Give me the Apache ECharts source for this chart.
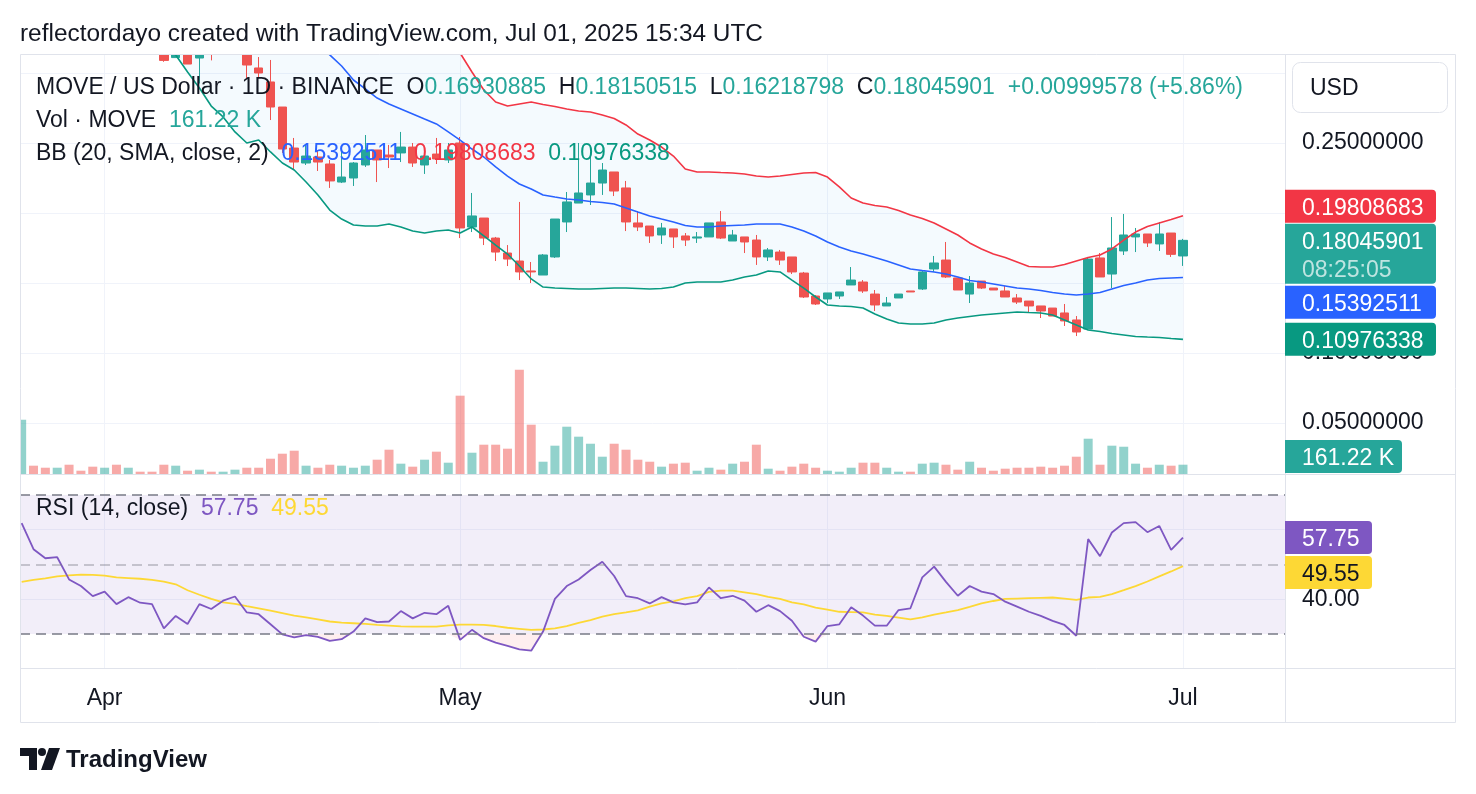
<!DOCTYPE html>
<html>
<head>
<meta charset="utf-8">
<title>MOVE / US Dollar · 1D · BINANCE</title>
<script src="https://cdn.jsdelivr.net/npm/echarts@6/dist/echarts.min.js"></script>
<style>
  html, body { margin: 0; padding: 0; background: #fff; }
  #chart { width: 1476px; height: 794px; }
</style>
</head>
<body>
<div id="chart"></div>
<script>
  // daily candles, 25 Mar 2025 .. 1 Jul 2025
  const dates = [];
  for (let i = 0; i < 99; i++) {
    dates.push(new Date(Date.UTC(2025, 2, 25 + i)).toISOString().slice(0, 10));
  }

  const open = [
    0.430, 0.455, 0.425, 0.415, 0.417, 0.392, 0.384, 0.370, 0.376, 0.358, 0.366, 0.358,
    0.355, 0.311, 0.335, 0.3107, 0.330, 0.317, 0.330, 0.338, 0.3036, 0.2936, 0.2757, 0.2464,
    0.2357, 0.2400, 0.2350, 0.2221, 0.2250, 0.2343, 0.2450, 0.2414, 0.2429, 0.2471, 0.2343, 0.2421,
    0.2379, 0.2500, 0.1900, 0.1964, 0.1821, 0.1714, 0.1657, 0.1586, 0.1557, 0.1686, 0.1936, 0.2071,
    0.2129, 0.2214, 0.2293, 0.2179, 0.1929, 0.1907, 0.1843, 0.1886, 0.1836, 0.1821, 0.1829, 0.1936,
    0.1800, 0.1829, 0.1807, 0.1686, 0.1721, 0.1686, 0.1571, 0.1407, 0.1386, 0.1407, 0.1486, 0.1507,
    0.1421, 0.1336, 0.1393, 0.1443, 0.1457, 0.1600, 0.1664, 0.1536, 0.1421, 0.1514, 0.1464, 0.1443,
    0.1393, 0.1371, 0.1336, 0.1321, 0.1286, 0.1236, 0.1171, 0.1679, 0.1564, 0.1729, 0.1829, 0.1850,
    0.1779, 0.1857, 0.16930885
  ];
  const high = [
    0.468, 0.458, 0.432, 0.425, 0.420, 0.398, 0.388, 0.382, 0.379, 0.370, 0.368, 0.362,
    0.357, 0.345, 0.340, 0.338, 0.340, 0.345, 0.350, 0.342, 0.3114, 0.3093, 0.2757, 0.2536,
    0.2486, 0.2450, 0.2379, 0.2471, 0.2364, 0.2557, 0.2450, 0.2486, 0.2579, 0.2500, 0.2450, 0.2536,
    0.2500, 0.2543, 0.2143, 0.1964, 0.1829, 0.1771, 0.2079, 0.1650, 0.1707, 0.1957, 0.2150, 0.2500,
    0.2429, 0.2357, 0.2293, 0.2229, 0.2014, 0.1907, 0.1929, 0.1886, 0.1857, 0.1864, 0.1929, 0.2014,
    0.1879, 0.1829, 0.1843, 0.1750, 0.1736, 0.1686, 0.1579, 0.1414, 0.1429, 0.1436, 0.1614, 0.1521,
    0.1450, 0.1400, 0.1421, 0.1443, 0.1593, 0.1693, 0.1793, 0.1536, 0.1550, 0.1514, 0.1464, 0.1479,
    0.1421, 0.1371, 0.1336, 0.1321, 0.1350, 0.1264, 0.1686, 0.1714, 0.1971, 0.1993, 0.1893, 0.1850,
    0.1936, 0.1857, 0.18150515
  ];
  const low = [
    0.425, 0.418, 0.405, 0.408, 0.385, 0.378, 0.362, 0.365, 0.352, 0.354, 0.354, 0.350,
    0.308, 0.311, 0.3064, 0.2925, 0.309, 0.315, 0.318, 0.2964, 0.2971, 0.2664, 0.2429, 0.2307,
    0.2343, 0.2300, 0.2179, 0.2214, 0.2193, 0.2329, 0.2221, 0.2321, 0.2364, 0.2329, 0.2279, 0.2350,
    0.2357, 0.1821, 0.1864, 0.1771, 0.1657, 0.1621, 0.1521, 0.1500, 0.1557, 0.1679, 0.1864, 0.2071,
    0.2057, 0.2129, 0.2121, 0.1871, 0.1871, 0.1786, 0.1779, 0.1750, 0.1764, 0.1786, 0.1829, 0.1814,
    0.1800, 0.1714, 0.1629, 0.1657, 0.1629, 0.1564, 0.1393, 0.1343, 0.1357, 0.1386, 0.1486, 0.1429,
    0.1300, 0.1336, 0.1393, 0.1436, 0.1450, 0.1579, 0.1536, 0.1450, 0.1357, 0.1457, 0.1450, 0.1400,
    0.1350, 0.1286, 0.1250, 0.1264, 0.1193, 0.1121, 0.1171, 0.1543, 0.1464, 0.1700, 0.1721, 0.1757,
    0.1729, 0.1686, 0.16218798
  ];
  const close = [
    0.455, 0.425, 0.415, 0.417, 0.392, 0.384, 0.370, 0.376, 0.358, 0.366, 0.358, 0.355,
    0.309, 0.335, 0.3064, 0.330, 0.317, 0.330, 0.338, 0.3057, 0.3000, 0.2757, 0.2457, 0.2364,
    0.2407, 0.2364, 0.2229, 0.2257, 0.2357, 0.2450, 0.2379, 0.2400, 0.2471, 0.2357, 0.2407, 0.2386,
    0.2450, 0.1893, 0.1979, 0.1821, 0.1721, 0.1671, 0.1579, 0.1579, 0.1700, 0.1957, 0.2079, 0.2143,
    0.2214, 0.2307, 0.2157, 0.1936, 0.1900, 0.1836, 0.1893, 0.1829, 0.1807, 0.1829, 0.1929, 0.1821,
    0.1843, 0.1793, 0.1686, 0.1736, 0.1664, 0.1579, 0.1400, 0.1350, 0.1429, 0.1436, 0.1521, 0.1443,
    0.1343, 0.1357, 0.1421, 0.1436, 0.1579, 0.1643, 0.1543, 0.1450, 0.1500, 0.1464, 0.1450, 0.1400,
    0.1364, 0.1336, 0.1300, 0.1264, 0.1229, 0.1150, 0.1671, 0.1543, 0.1750, 0.1843, 0.1850, 0.1786,
    0.1850, 0.17046323, 0.18045901
  ];
  // volume, thousands of MOVE
  const volume = [
    941, 144, 109, 109, 161, 57, 127, 109, 161, 109, 40, 40,
    161, 144, 57, 75, 40, 40, 75, 109,
    109, 265, 352, 404, 144, 109, 161, 144, 109, 144,
    248, 421, 179, 127, 248, 387, 196, 1358, 369, 508,
    508, 439, 1809, 855, 213, 491, 820, 647, 525, 300,
    525, 421, 248, 213, 127, 179, 196, 57, 109, 75,
    179, 213, 508, 92, 57, 127, 179, 109, 57, 40,
    109, 196, 196, 109, 40, 40, 179, 196, 161, 75,
    213, 109, 57, 92, 109, 109, 127, 109, 144, 300,
    612, 161, 491, 473, 179, 109, 161, 144, 161.22
  ];
  // Bollinger Bands (20, SMA, close, 2) as plotted
  const bbUpper = [
    0.538, 0.530, 0.523, 0.516, 0.510, 0.504, 0.498, 0.494, 0.490, 0.488, 0.486, 0.486,
    0.484, 0.4831, 0.4833, 0.4827, 0.4836, 0.4794, 0.4781, 0.474, 0.4599, 0.4544, 0.4483, 0.4393,
    0.4339, 0.4291, 0.4239, 0.4143, 0.3986, 0.3865, 0.3735, 0.3637, 0.3586, 0.3543, 0.3485, 0.3401,
    0.3279, 0.3143, 0.3007, 0.2879, 0.2793, 0.2764, 0.2779, 0.2793, 0.2775, 0.2761, 0.2743, 0.2729,
    0.2721, 0.2700, 0.2675, 0.2629, 0.2564, 0.2521, 0.2471, 0.2407, 0.2314, 0.2293, 0.2293, 0.2289,
    0.2286, 0.2279, 0.2264, 0.2257, 0.2264, 0.2275, 0.2286, 0.2289, 0.2257, 0.2186, 0.2107, 0.2071,
    0.2054, 0.2043, 0.2018, 0.1986, 0.1961, 0.1929, 0.1886, 0.1843, 0.1786, 0.1743, 0.1707, 0.1682,
    0.1650, 0.1618, 0.1614, 0.1614, 0.1632, 0.1657, 0.1682, 0.1700, 0.1743, 0.1807, 0.1864, 0.1904,
    0.1929, 0.1954, 0.19808683
  ];
  const bbBasis = [
    0.465, 0.460, 0.455, 0.450, 0.445, 0.440, 0.435, 0.430, 0.425, 0.420, 0.415, 0.410,
    0.404, 0.398, 0.392, 0.386, 0.380, 0.374, 0.368, 0.362, 0.356, 0.349, 0.342, 0.335,
    0.328, 0.321, 0.313, 0.305, 0.295, 0.2886, 0.2821, 0.2779, 0.2743, 0.2707, 0.2671, 0.2636,
    0.2579, 0.2521, 0.2457, 0.2400, 0.2329, 0.2264, 0.2207, 0.2171, 0.2129, 0.2114, 0.2100, 0.2093,
    0.2082, 0.2075, 0.2064, 0.2036, 0.2007, 0.1979, 0.1957, 0.1936, 0.1911, 0.1900, 0.1900, 0.1907,
    0.1911, 0.1914, 0.1921, 0.1921, 0.1921, 0.1900, 0.1871, 0.1836, 0.1793, 0.1757, 0.1729, 0.1707,
    0.1682, 0.1657, 0.1629, 0.1600, 0.1589, 0.1579, 0.1564, 0.1543, 0.1518, 0.1507, 0.1493, 0.1479,
    0.1464, 0.1457, 0.1446, 0.1432, 0.1421, 0.1414, 0.1421, 0.1432, 0.1457, 0.1482, 0.1500, 0.1521,
    0.1532, 0.1536, 0.15392511
  ];
  const bbLower = [
    0.392, 0.390, 0.387, 0.384, 0.380, 0.376, 0.372, 0.366, 0.360, 0.352, 0.344, 0.334,
    0.324, 0.3129, 0.3007, 0.2893, 0.2764, 0.2686, 0.2579, 0.2500, 0.2521, 0.2436, 0.2357, 0.2307,
    0.2221, 0.2129, 0.2021, 0.1957, 0.1914, 0.1907, 0.1907, 0.1921, 0.1900, 0.1871, 0.1857, 0.1871,
    0.1879, 0.1857, 0.1900, 0.1836, 0.1771, 0.1707, 0.1621, 0.1529, 0.1471, 0.1464, 0.1461, 0.1457,
    0.1457, 0.1461, 0.1464, 0.1464, 0.1461, 0.1457, 0.1461, 0.1471, 0.1500, 0.1507, 0.1507, 0.1507,
    0.1521, 0.1543, 0.1557, 0.1586, 0.1579, 0.1521, 0.1464, 0.1400, 0.1343, 0.1336, 0.1332, 0.1321,
    0.1279, 0.1243, 0.1214, 0.1207, 0.1207, 0.1214, 0.1236, 0.1250, 0.1261, 0.1271, 0.1279, 0.1286,
    0.1293, 0.1289, 0.1286, 0.1271, 0.1236, 0.1200, 0.1164, 0.1154, 0.1139, 0.1129, 0.1118, 0.1114,
    0.1111, 0.1104, 0.10976338
  ];
  // RSI (14, close) and its moving average
  const rsi = [
    61.9, 54.4, 51.8, 52.1, 45.7, 43.8, 40.9, 42.2, 38.6, 40.6, 39.0, 38.6,
    31.6, 35.2, 32.9, 38.6, 37.2, 39.6, 40.8, 36.2, 35.7, 32.8, 29.9, 29.0,
    29.7, 29.2, 28.0, 28.5, 30.7, 34.5, 33.4, 33.6, 36.6, 34.5, 36.1, 35.7,
    38.1, 28.3, 31.2, 28.8, 27.5, 26.6, 25.6, 25.2, 30.7, 40.1, 43.8, 45.7,
    48.4, 50.8, 46.7, 40.9, 40.3, 38.8, 40.6, 39.1, 38.5, 39.1, 43.4, 40.3,
    41.0, 39.6, 36.4, 38.3, 36.6, 33.8, 29.2, 27.8, 32.3, 32.8, 37.7, 35.3,
    32.4, 32.4, 36.9, 37.4, 46.3, 49.4, 45.0, 41.0, 43.8, 42.2, 41.5, 39.3,
    37.9, 36.4, 35.2, 33.8, 32.6, 29.5, 57.3, 52.4, 59.2, 61.9, 62.2, 59.3,
    61.1, 54.2, 57.75
  ];
  const rsiMa = [
    45.0, 45.6, 46.0, 46.6, 46.9, 47.1, 47.0, 46.8, 46.3, 46.1, 45.9, 45.6,
    45.1, 44.3, 42.6, 41.3, 40.1, 39.1, 38.7, 38.0, 37.4, 36.7, 36.0, 35.3,
    34.8, 34.2, 33.6, 33.3, 33.1, 32.9, 32.6, 32.4, 32.2, 32.1, 32.1, 32.1,
    32.5, 32.7, 32.7, 32.6, 32.3, 31.8, 31.5, 31.2, 31.3, 31.6, 32.3, 33.2,
    34.0, 35.0, 35.7, 36.2, 36.8, 37.9, 38.8, 39.4, 40.3, 40.9, 42.1, 42.5,
    42.5, 42.0, 41.5, 40.7, 40.1, 39.1, 38.5, 37.6, 37.0, 36.4, 36.3, 36.2,
    35.6, 35.2, 34.7, 34.2, 34.8, 35.6, 36.2, 36.9, 37.8, 38.8, 39.5, 40.1,
    40.2, 40.3, 40.4, 40.5, 40.2, 39.8, 40.5, 40.7, 41.5, 42.6, 43.8, 45.1,
    46.6, 48.0, 49.55
  ];
  const priceGrid = [0.05, 0.10, 0.15, 0.20, 0.25, 0.30];
  const priceLabels = [0.05, 0.10, 0.25];
  const rsiGrid = [40, 60];
  const rsiLabels = [40];
  const monthNames = { '04': 'Apr', '05': 'May', '06': 'Jun', '07': 'Jul' };

  /* ---------- style ---------- */
  const FONT = '"Liberation Sans", Arial, sans-serif';
  const TXT = '#131722';
  const UP = '#26a69a', DOWN = '#ef5350';
  const UP_VOL = 'rgba(38,166,154,0.5)', DOWN_VOL = 'rgba(239,83,80,0.5)';
  const C_UPPER = '#f23645', C_BASIS = '#2962ff', C_LOWER = '#089981';
  const C_RSI = '#7e57c2', C_RSIMA = '#fdd835';
  const GRID_C = '#f0f3fa', BORDER_C = '#e0e3eb';
  const font = (s, w) => `${w || 'normal'} ${s}px ${FONT}`;

  const last = dates.length - 1;
  const monthIdx = dates.map((d, i) => (d.endsWith('-01') ? i : -1)).filter(i => i >= 0);
  const xs = dates.map((_, i) => i);
  const X_MIN = -0.14, X_MAX = 106.61;

  const chart = echarts.init(document.getElementById('chart'));

  const xAxisOf = (gridIndex, withLabels) => ({
    type: 'value', gridIndex, min: X_MIN, max: X_MAX,
    axisLine: { show: false },
    axisTick: { show: false, customValues: monthIdx },
    axisLabel: {
      show: withLabels, customValues: monthIdx, margin: 19,
      color: TXT, fontSize: 23, fontFamily: FONT,
      formatter: v => monthNames[dates[Math.round(v)].slice(5, 7)]
    },
    splitLine: { show: gridIndex !== 1, lineStyle: { color: GRID_C, width: 1 } }
  });

  const option = {
    animation: false,
    backgroundColor: '#fff',
    grid: [
      { left: 20, right: 191, top: 54, height: 420 },
      { left: 20, right: 191, top: 54, height: 420 },
      { left: 20, right: 191, top: 474, height: 194 }
    ],
    xAxis: [xAxisOf(0, false), xAxisOf(1, false), xAxisOf(2, true)],
    yAxis: [
      {
        type: 'value', gridIndex: 0, position: 'right', min: 0.013571, max: 0.313571,
        axisLine: { show: false },
        axisTick: { show: false, customValues: priceGrid },
        axisLabel: {
          customValues: priceLabels, margin: 17, color: TXT, fontSize: 23, fontFamily: FONT,
          padding: [4, 0, 0, 0], formatter: v => v.toFixed(8)
        },
        splitLine: { lineStyle: { color: GRID_C } }
      },
      {
        type: 'value', gridIndex: 1, min: 0, max: 7283, show: false,
        splitLine: { show: false }
      },
      {
        type: 'value', gridIndex: 2, position: 'right', min: 20.22, max: 76.04,
        axisLine: { show: false },
        axisTick: { show: false, customValues: rsiGrid },
        axisLabel: {
          customValues: rsiLabels, margin: 17, color: TXT, fontSize: 23, fontFamily: FONT,
          padding: [4, 0, 0, 0], formatter: v => v.toFixed(2)
        },
        splitLine: { lineStyle: { color: GRID_C } }
      }
    ],
    series: [
      // band fill between upper and lower
      {
        type: 'custom', name: 'bbBand', xAxisIndex: 0, yAxisIndex: 0, z: 1, silent: true,
        data: xs.map(i => [i, bbUpper[i], bbLower[i]]),
        encode: { x: 0, y: [1, 2] },
        renderItem: (params, api) => {
          if (params.dataIndex !== 0) return null;
          const top = xs.map(i => api.coord([i, bbUpper[i]]));
          const bot = xs.map(i => api.coord([i, bbLower[i]])).reverse();
          return {
            type: 'polygon', shape: { points: top.concat(bot) },
            style: { fill: 'rgba(33,150,243,0.05)' }
          };
        }
      },
      {
        type: 'bar', name: 'Vol', xAxisIndex: 1, yAxisIndex: 1, z: 2, barWidth: 9,
        data: xs.map(i => ({ value: [i, volume[i]], itemStyle: { color: close[i] >= open[i] ? UP_VOL : DOWN_VOL } }))
      },
      {
        type: 'candlestick', name: 'MOVE', xAxisIndex: 0, yAxisIndex: 0, z: 3, barWidth: 9,
        data: xs.map(i => [i, open[i], close[i], low[i], high[i]]),
        encode: { x: 0, y: [1, 2, 3, 4] },
        itemStyle: { color: UP, color0: DOWN, borderColor: UP, borderColor0: DOWN, borderWidth: 1 }
      },
      {
        type: 'line', name: 'Upper', xAxisIndex: 0, yAxisIndex: 0, z: 4,
        data: xs.map(i => [i, bbUpper[i]]), symbol: 'none', lineStyle: { color: C_UPPER, width: 1.6 }
      },
      {
        type: 'line', name: 'Basis', xAxisIndex: 0, yAxisIndex: 0, z: 4,
        data: xs.map(i => [i, bbBasis[i]]), symbol: 'none', lineStyle: { color: C_BASIS, width: 1.6 }
      },
      {
        type: 'line', name: 'Lower', xAxisIndex: 0, yAxisIndex: 0, z: 4,
        data: xs.map(i => [i, bbLower[i]]), symbol: 'none', lineStyle: { color: C_LOWER, width: 1.6 }
      },
      // oversold shading under 30
      {
        type: 'line', name: 'oversold', xAxisIndex: 2, yAxisIndex: 2, z: 2,
        data: xs.map(i => [i, Math.min(rsi[i], 30)]), symbol: 'none', silent: true,
        lineStyle: { opacity: 0 },
        areaStyle: { origin: 30, color: 'rgba(242,54,69,0.12)' }
      },
      {
        type: 'line', name: 'RSI-based MA', xAxisIndex: 2, yAxisIndex: 2, z: 3,
        data: xs.map(i => [i, rsiMa[i]]), symbol: 'none', lineStyle: { color: C_RSIMA, width: 1.8 }
      },
      {
        type: 'line', name: 'RSI', xAxisIndex: 2, yAxisIndex: 2, z: 4,
        data: xs.map(i => [i, rsi[i]]), symbol: 'none', lineStyle: { color: C_RSI, width: 1.8 },
        markArea: {
          silent: true,
          itemStyle: { color: 'rgba(126,87,194,0.1)' },
          data: [[{ yAxis: 30 }, { yAxis: 70 }]]
        },
        markLine: {
          silent: true, symbol: 'none', label: { show: false },
          lineStyle: { color: '#787b86', type: [10, 6], width: 1.5 },
          data: [
            { yAxis: 70 },
            { yAxis: 50, lineStyle: { color: 'rgba(120,123,134,0.5)', type: [10, 6], width: 1.5 } },
            { yAxis: 30 }
          ]
        }
      }
    ]
  };

  chart.setOption(option);

  /* ---------- overlay texts, value boxes, frame ---------- */
  const g = [];
  const DY = 2; // baseline nudge so text centres sit where the reference has them
  const text = (x, y, str, fill, size, weight) =>
    g.push({ type: 'text', z: 100, x, y: y + DY, silent: true,
      style: { text: str, fill, font: font(size, weight), verticalAlign: 'middle' } });
  const rich = (x, y, str, styles) =>
    g.push({ type: 'text', z: 100, x, y: y + DY, silent: true,
      style: { text: str, font: font(23), verticalAlign: 'middle', rich: styles } });

  // white margins hide anything that spills out of the panes
  g.push({ type: 'rect', z: 80, silent: true, shape: { x: 0, y: 0, width: 1476, height: 54 }, style: { fill: '#fff' } });
  g.push({ type: 'rect', z: 80, silent: true, shape: { x: 0, y: 54, width: 20, height: 700 }, style: { fill: '#fff' } });

  // frame and pane separators
  g.push({ type: 'rect', z: 90, silent: true, shape: { x: 20.5, y: 54.5, width: 1435, height: 668 },
    style: { fill: null, stroke: BORDER_C, lineWidth: 1 } });
  [[20, 474.5, 1455, 474.5], [20, 668.5, 1455, 668.5], [1285.5, 54, 1285.5, 722]].forEach(s =>
    g.push({ type: 'line', z: 90, silent: true, shape: { x1: s[0], y1: s[1], x2: s[2], y2: s[3] },
      style: { stroke: BORDER_C, lineWidth: 1 } }));

  // title line
  text(20, 32, 'reflectordayo created with TradingView.com, Jul 01, 2025 15:34 UTC', TXT, 24.4);

  // legends
  const fmt = v => v.toFixed(8);
  const chg = close[last] - close[last - 1];
  const pct = chg / close[last - 1] * 100;
  const st = {
    k: { fill: TXT, font: font(23) },
    v: { fill: UP, font: font(23) },
    b: { fill: C_BASIS, font: font(23) },
    u: { fill: C_UPPER, font: font(23) },
    l: { fill: C_LOWER, font: font(23) },
    r: { fill: C_RSI, font: font(23) },
    m: { fill: C_RSIMA, font: font(23) }
  };
  rich(36, 86,
    `{k|MOVE / US Dollar · 1D · BINANCE}  {k|O}{v|${fmt(open[last])}}  {k|H}{v|${fmt(high[last])}}  ` +
    `{k|L}{v|${fmt(low[last])}}  {k|C}{v|${fmt(close[last])}}  {v|+${fmt(chg)} (+${pct.toFixed(2)}%)}`, st);
  rich(36, 119, `{k|Vol · MOVE}  {v|${volume[last].toFixed(2)} K}`, st);
  rich(36, 152, `{k|BB (20, SMA, close, 2)}  {b|${fmt(bbBasis[last])}}  {u|${fmt(bbUpper[last])}}  {l|${fmt(bbLower[last])}}`, st);
  rich(36, 507, `{k|RSI (14, close)}  {r|${rsi[last].toFixed(2)}}  {m|${rsiMa[last].toFixed(2)}}`, st);

  // currency button
  g.push({ type: 'rect', z: 100, silent: true, shape: { x: 1292.5, y: 62.5, width: 155, height: 50, r: 8 },
    style: { fill: '#fff', stroke: BORDER_C, lineWidth: 1 } });
  text(1310, 87, 'USD', TXT, 23);

  // value boxes on the scales
  const box = (top, h, w, color, lines) => {
    g.push({ type: 'rect', z: 100, silent: true, shape: { x: 1285, y: top, width: w, height: h, r: [0, 4, 4, 0] },
      style: { fill: color } });
    lines.forEach((ln, k) => text(1302, top + 16.5 + k * 28, ln[0], ln[1], 23));
  };
  const layout = (items, anchor) => {
    items.forEach(it => { it.top = it.pos - 16.5; });
    items.sort((a, b) => a.top - b.top);
    const a = items.indexOf(anchor);
    for (let i = a - 1; i >= 0; i--) items[i].top = Math.min(items[i].top, items[i + 1].top - items[i].h - 1);
    for (let i = a + 1; i < items.length; i++) items[i].top = Math.max(items[i].top, items[i - 1].top + items[i - 1].h + 2);
    return items;
  };
  const py = v => chart.convertToPixel({ yAxisIndex: 0 }, v);
  const lastItem = { pos: py(close[last]), h: 60, color: UP, lines: [[fmt(close[last]), '#fff'], ['08:25:05', 'rgba(255,255,255,0.7)']] };
  layout([
    { pos: py(bbUpper[last]), h: 33, color: C_UPPER, lines: [[fmt(bbUpper[last]), '#fff']] },
    lastItem,
    { pos: py(bbBasis[last]), h: 33, color: C_BASIS, lines: [[fmt(bbBasis[last]), '#fff']] },
    { pos: py(bbLower[last]), h: 33, color: C_LOWER, lines: [[fmt(bbLower[last]), '#fff']] }
  ], lastItem).forEach(it => box(it.top, it.h, 151, it.color, it.lines));

  const volY = chart.convertToPixel({ yAxisIndex: 1 }, volume[last]);
  box(Math.min(volY - 16.5, 474 - 34), 33, 117, UP, [[volume[last].toFixed(2) + ' K', '#fff']]);

  const ry = v => chart.convertToPixel({ yAxisIndex: 2 }, v);
  const rsiItem = { pos: ry(rsi[last]), h: 33, color: C_RSI, lines: [[rsi[last].toFixed(2), '#fff']] };
  layout([
    rsiItem,
    { pos: ry(rsiMa[last]), h: 33, color: C_RSIMA, lines: [[rsiMa[last].toFixed(2), TXT]] }
  ], rsiItem).forEach(it => box(it.top, it.h, 87, it.color, it.lines));

  // TradingView mark
  g.push({ type: 'polygon', z: 100, silent: true,
    shape: { points: [[20, 748], [37, 748], [37, 770], [29, 770], [29, 756], [20, 756]] }, style: { fill: TXT } });
  g.push({ type: 'circle', z: 100, silent: true, shape: { cx: 42, cy: 752, r: 4 }, style: { fill: TXT } });
  g.push({ type: 'polygon', z: 100, silent: true,
    shape: { points: [[49, 748], [60, 748], [52, 770], [41, 770]] }, style: { fill: TXT } });
  text(66, 758, 'TradingView', TXT, 24, '600');

  chart.setOption({ graphic: g });
</script>
</body>
</html>
